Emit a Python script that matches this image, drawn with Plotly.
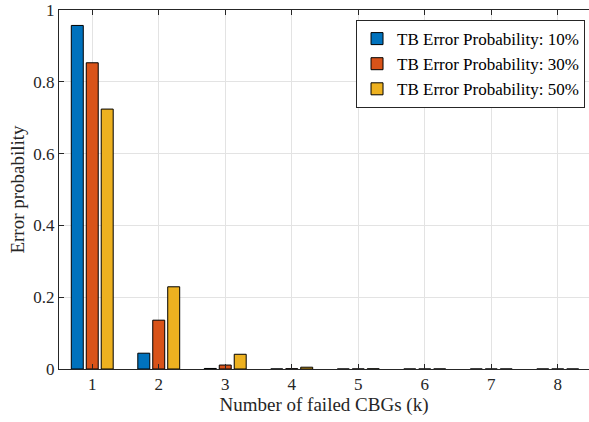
import plotly.graph_objects as go

k = [1, 2, 3, 4, 5, 6, 7, 8]
p10 = [0.957, 0.044, 0.0015, 0.0001, 0.0, 0.0, 0.0, 0.0]
p30 = [0.853, 0.136, 0.011, 0.0008, 0.0001, 0.0, 0.0, 0.0]
p50 = [0.724, 0.229, 0.041, 0.005, 0.0005, 0.0001, 0.0, 0.0]
names = ["TB Error Probability: 10%", "TB Error Probability: 30%", "TB Error Probability: 50%"]
colors = ["#0072BD", "#D95319", "#EDB120"]

fig = go.Figure()
for vals, nm, c in zip([p10, p30, p50], names, colors):
    fig.add_trace(go.Bar(x=k, y=vals, name=nm, marker=dict(color=c, line=dict(color="black", width=1))))

font = "Liberation Serif, Times New Roman, serif"
fig.update_layout(
    width=589, height=422,
    margin=dict(l=59, r=0, t=10, b=53, autoexpand=False),
    paper_bgcolor="white", plot_bgcolor="white",
    barmode="group", bargap=0.325, bargroupgap=0.2,
    font=dict(family=font, size=17, color="#262626"),
    legend=dict(x=0.9925, y=0.972, xanchor="right", yanchor="top",
                bgcolor="white", bordercolor="#262626", borderwidth=1,
                font=dict(family=font, size=17, color="black"),
                tracegroupgap=0, itemwidth=30),
    xaxis=dict(range=[0.5, 8.47], tickvals=k, ticktext=[str(v) for v in k],
               showgrid=True, gridcolor="#e3e3e3", gridwidth=1,
               showline=True, linecolor="#262626", linewidth=1, mirror="ticks",
               ticks="inside", ticklen=5, tickcolor="#262626",
               title=dict(text="Number of failed CBGs (k)", font=dict(size=19), standoff=4),
               tickfont=dict(size=17), zeroline=False, automargin=False),
    yaxis=dict(range=[0, 1], tickvals=[0, 0.2, 0.4, 0.6, 0.8, 1], ticktext=["0", "0.2", "0.4", "0.6", "0.8", "1"],
               showgrid=True, gridcolor="#e3e3e3", gridwidth=1,
               showline=True, linecolor="#262626", linewidth=1,
               ticks="inside", ticklen=5, tickcolor="#262626",
               title=dict(text="Error probability", font=dict(size=19), standoff=3),
               tickfont=dict(size=17), zeroline=False, automargin=False),
)
fig.write_html("out.html", config={"displayModeBar": False},
               post_script="document.body.style.margin='0';document.body.style.overflow='hidden';")
